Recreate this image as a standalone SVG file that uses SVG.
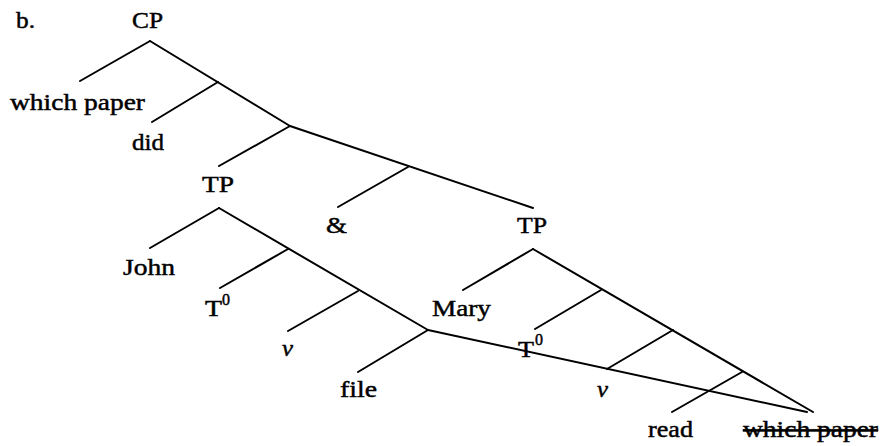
<svg xmlns="http://www.w3.org/2000/svg" width="883" height="446" viewBox="0 0 883 446">
<style>
text{font-family:"Liberation Serif","Times New Roman",serif;font-size:23px;fill:#000;stroke:#000;stroke-width:0.45}
.it{font-style:italic}
.sup{font-size:16px}
.strike{text-decoration:line-through}
#connectors line{stroke:#000;stroke-width:2;stroke-linecap:round}
</style>
<rect width="883" height="446" fill="#fff"/>
<g id="connectors">
<line x1="150" y1="41" x2="80" y2="81"/>
<line x1="150" y1="41" x2="290" y2="126"/>
<line x1="218" y1="82" x2="152" y2="122"/>
<line x1="290" y1="126" x2="219" y2="166"/>
<line x1="290" y1="126" x2="533" y2="208"/>
<line x1="408" y1="167" x2="338" y2="207"/>
<line x1="219" y1="208" x2="150" y2="248"/>
<line x1="219" y1="208" x2="428" y2="330"/>
<line x1="288" y1="249" x2="220" y2="288"/>
<line x1="358" y1="291" x2="288" y2="331"/>
<line x1="428" y1="330" x2="358" y2="372"/>
<line x1="428" y1="330" x2="807" y2="412"/>
<line x1="533" y1="249" x2="463" y2="290"/>
<line x1="533" y1="249" x2="813" y2="412"/>
<line x1="601" y1="290" x2="535" y2="329"/>
<line x1="673" y1="330" x2="607" y2="369"/>
<line x1="742" y1="372" x2="672" y2="412"/>
</g>
<g id="label-b"><text x="16" y="28" textLength="19" lengthAdjust="spacingAndGlyphs">b.</text></g>
<g id="node-CP"><text x="132" y="28" textLength="31" lengthAdjust="spacingAndGlyphs">CP</text></g>
<g id="node-which-paper"><text x="10" y="110" textLength="135" lengthAdjust="spacingAndGlyphs">which paper</text></g>
<g id="node-did"><text x="132" y="150" textLength="32" lengthAdjust="spacingAndGlyphs">did</text></g>
<g id="node-TP1"><text x="202" y="192" textLength="32" lengthAdjust="spacingAndGlyphs">TP</text></g>
<g id="node-and"><text x="326" y="233" textLength="21" lengthAdjust="spacingAndGlyphs">&amp;</text></g>
<g id="node-TP2"><text x="517" y="233" textLength="30" lengthAdjust="spacingAndGlyphs">TP</text></g>
<g id="node-John"><text x="123" y="275" textLength="52" lengthAdjust="spacingAndGlyphs">John</text></g>
<g id="node-T0-1"><text x="205" y="316" textLength="17" lengthAdjust="spacingAndGlyphs">T</text><text class="sup" x="222" y="305">0</text></g>
<g id="node-Mary"><text x="432" y="316" textLength="59" lengthAdjust="spacingAndGlyphs">Mary</text></g>
<g id="node-v1"><text class="it" x="282" y="356" textLength="11" lengthAdjust="spacingAndGlyphs">v</text></g>
<g id="node-file"><text x="340" y="397" textLength="37" lengthAdjust="spacingAndGlyphs">file</text></g>
<g id="node-T0-2"><text x="518" y="357" textLength="16" lengthAdjust="spacingAndGlyphs">T</text><text class="sup" x="535" y="345">0</text></g>
<g id="node-v2"><text class="it" x="597" y="397" textLength="11" lengthAdjust="spacingAndGlyphs">v</text></g>
<g id="node-read"><text x="648" y="437" textLength="45" lengthAdjust="spacingAndGlyphs">read</text></g>
<g id="node-which-paper-copy"><text class="strike" x="743" y="437" textLength="135" lengthAdjust="spacingAndGlyphs">which paper</text></g>
</svg>
